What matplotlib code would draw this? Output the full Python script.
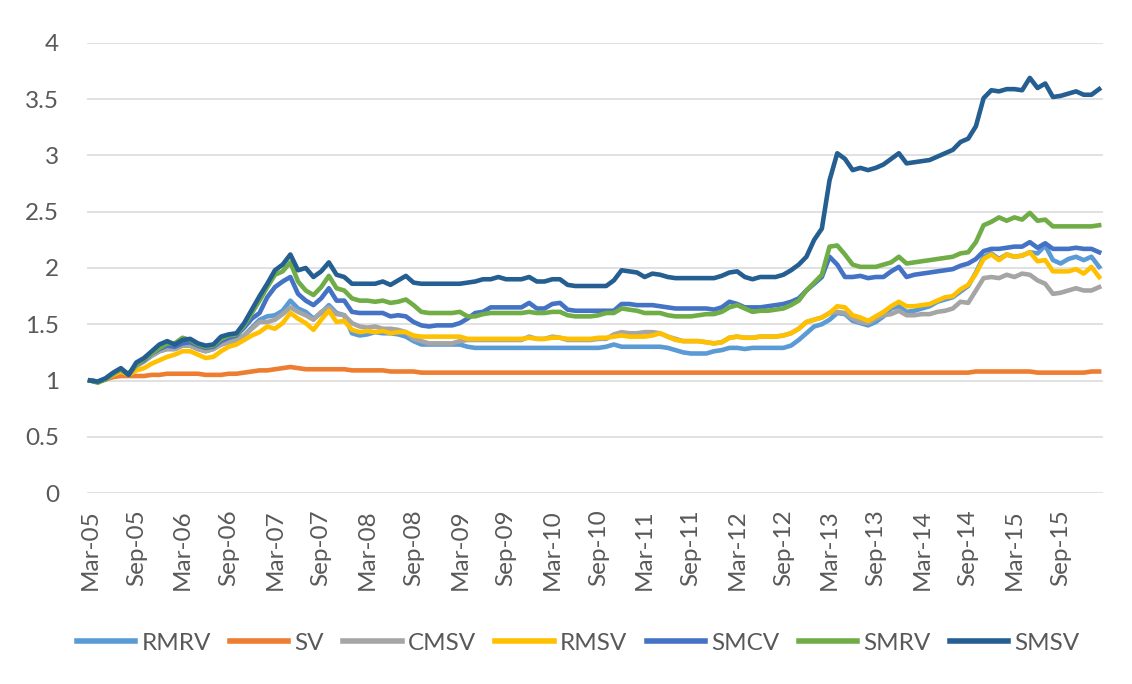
import numpy as np
import pandas as pd
import matplotlib
matplotlib.use('Agg')
import matplotlib.pyplot as plt

# Séries mensuelles (Mar-05 -> Feb-16)
dates = pd.date_range('2005-03-01', periods=132, freq='MS')

rmrv = [1.00, 0.99, 1.01, 1.05, 1.09, 1.05, 1.13, 1.17, 1.22, 1.26, 1.28, 1.28,
        1.31, 1.31, 1.28, 1.26, 1.28, 1.32, 1.34, 1.36, 1.40, 1.47, 1.54, 1.57,
        1.58, 1.62, 1.71, 1.64, 1.61, 1.55, 1.60, 1.67, 1.60, 1.58, 1.42, 1.40,
        1.41, 1.43, 1.42, 1.42, 1.41, 1.39, 1.35, 1.32, 1.32, 1.32, 1.32, 1.32,
        1.32, 1.30, 1.29, 1.29, 1.29, 1.29, 1.29, 1.29, 1.29, 1.29, 1.29, 1.29,
        1.29, 1.29, 1.29, 1.29, 1.29, 1.29, 1.29, 1.30, 1.32, 1.30, 1.30, 1.30,
        1.30, 1.30, 1.30, 1.29, 1.27, 1.25, 1.24, 1.24, 1.24, 1.26, 1.27, 1.29,
        1.29, 1.28, 1.29, 1.29, 1.29, 1.29, 1.29, 1.31, 1.36, 1.42, 1.48, 1.50,
        1.54, 1.60, 1.59, 1.53, 1.51, 1.49, 1.52, 1.57, 1.64, 1.66, 1.61, 1.62,
        1.64, 1.66, 1.70, 1.72, 1.74, 1.79, 1.84, 1.96, 2.10, 2.13, 2.08, 2.12,
        2.10, 2.11, 2.14, 2.13, 2.20, 2.07, 2.04, 2.08, 2.10, 2.07, 2.10, 2.01]

sv = [1.00, 0.99, 1.01, 1.03, 1.04, 1.04, 1.04, 1.04, 1.05, 1.05, 1.06, 1.06,
      1.06, 1.06, 1.06, 1.05, 1.05, 1.05, 1.06, 1.06, 1.07, 1.08, 1.09, 1.09,
      1.10, 1.11, 1.12, 1.11, 1.10, 1.10, 1.10, 1.10, 1.10, 1.10, 1.09, 1.09,
      1.09, 1.09, 1.09, 1.08, 1.08, 1.08, 1.08, 1.07, 1.07, 1.07, 1.07, 1.07,
      1.07, 1.07, 1.07, 1.07, 1.07, 1.07, 1.07, 1.07, 1.07, 1.07, 1.07, 1.07,
      1.07, 1.07, 1.07, 1.07, 1.07, 1.07, 1.07, 1.07, 1.07, 1.07, 1.07, 1.07,
      1.07, 1.07, 1.07, 1.07, 1.07, 1.07, 1.07, 1.07, 1.07, 1.07, 1.07, 1.07,
      1.07, 1.07, 1.07, 1.07, 1.07, 1.07, 1.07, 1.07, 1.07, 1.07, 1.07, 1.07,
      1.07, 1.07, 1.07, 1.07, 1.07, 1.07, 1.07, 1.07, 1.07, 1.07, 1.07, 1.07,
      1.07, 1.07, 1.07, 1.07, 1.07, 1.07, 1.07, 1.08, 1.08, 1.08, 1.08, 1.08,
      1.08, 1.08, 1.08, 1.07, 1.07, 1.07, 1.07, 1.07, 1.07, 1.07, 1.08, 1.08]

cmsv = [1.00, 0.99, 1.01, 1.05, 1.09, 1.05, 1.13, 1.17, 1.22, 1.26, 1.28, 1.28,
        1.31, 1.31, 1.28, 1.26, 1.28, 1.32, 1.34, 1.36, 1.40, 1.46, 1.52, 1.52,
        1.54, 1.59, 1.65, 1.61, 1.58, 1.54, 1.61, 1.65, 1.59, 1.58, 1.51, 1.48,
        1.47, 1.48, 1.46, 1.46, 1.45, 1.43, 1.37, 1.35, 1.33, 1.33, 1.33, 1.33,
        1.35, 1.36, 1.36, 1.36, 1.36, 1.36, 1.36, 1.36, 1.36, 1.39, 1.37, 1.37,
        1.39, 1.38, 1.36, 1.36, 1.36, 1.36, 1.37, 1.37, 1.41, 1.43, 1.42, 1.42,
        1.43, 1.43, 1.42, 1.39, 1.37, 1.35, 1.35, 1.35, 1.34, 1.33, 1.34, 1.38,
        1.39, 1.38, 1.38, 1.39, 1.39, 1.39, 1.40, 1.42, 1.46, 1.52, 1.54, 1.56,
        1.60, 1.61, 1.60, 1.55, 1.52, 1.51, 1.55, 1.58, 1.59, 1.62, 1.58, 1.58,
        1.59, 1.59, 1.61, 1.62, 1.64, 1.70, 1.69, 1.80, 1.91, 1.92, 1.91, 1.94,
        1.92, 1.95, 1.94, 1.89, 1.86, 1.77, 1.78, 1.80, 1.82, 1.80, 1.80, 1.83]

rmsv = [1.00, 0.99, 1.01, 1.05, 1.08, 1.05, 1.09, 1.11, 1.15, 1.18, 1.21, 1.23,
        1.26, 1.26, 1.23, 1.20, 1.21, 1.26, 1.30, 1.32, 1.36, 1.40, 1.43, 1.48,
        1.46, 1.51, 1.60, 1.55, 1.51, 1.45, 1.54, 1.62, 1.52, 1.53, 1.45, 1.43,
        1.44, 1.43, 1.44, 1.42, 1.43, 1.43, 1.40, 1.39, 1.39, 1.39, 1.39, 1.39,
        1.39, 1.37, 1.37, 1.37, 1.37, 1.37, 1.37, 1.37, 1.37, 1.38, 1.37, 1.37,
        1.38, 1.38, 1.37, 1.37, 1.37, 1.37, 1.38, 1.38, 1.39, 1.40, 1.39, 1.39,
        1.39, 1.40, 1.42, 1.39, 1.36, 1.35, 1.35, 1.35, 1.34, 1.33, 1.34, 1.38,
        1.39, 1.38, 1.38, 1.39, 1.39, 1.39, 1.40, 1.42, 1.46, 1.52, 1.54, 1.56,
        1.60, 1.66, 1.65, 1.58, 1.56, 1.53, 1.57, 1.61, 1.66, 1.70, 1.66, 1.66,
        1.67, 1.68, 1.71, 1.74, 1.75, 1.81, 1.85, 1.95, 2.08, 2.12, 2.07, 2.12,
        2.10, 2.11, 2.14, 2.06, 2.07, 1.97, 1.97, 1.97, 1.99, 1.95, 2.01, 1.92]

smcv = [1.00, 0.99, 1.01, 1.06, 1.10, 1.05, 1.14, 1.18, 1.24, 1.28, 1.31, 1.30,
        1.33, 1.34, 1.31, 1.29, 1.30, 1.35, 1.38, 1.40, 1.47, 1.55, 1.60, 1.74,
        1.83, 1.88, 1.92, 1.77, 1.71, 1.67, 1.73, 1.82, 1.71, 1.71, 1.61, 1.60,
        1.60, 1.60, 1.60, 1.57, 1.58, 1.57, 1.52, 1.49, 1.48, 1.49, 1.49, 1.49,
        1.51, 1.55, 1.60, 1.61, 1.65, 1.65, 1.65, 1.65, 1.65, 1.69, 1.64, 1.64,
        1.68, 1.69, 1.63, 1.62, 1.62, 1.62, 1.62, 1.62, 1.62, 1.68, 1.68, 1.67,
        1.67, 1.67, 1.66, 1.65, 1.64, 1.64, 1.64, 1.64, 1.64, 1.63, 1.65, 1.70,
        1.68, 1.65, 1.65, 1.65, 1.66, 1.67, 1.68, 1.70, 1.73, 1.80, 1.86, 1.92,
        2.10, 2.03, 1.92, 1.92, 1.93, 1.91, 1.92, 1.92, 1.97, 2.01, 1.92, 1.94,
        1.95, 1.96, 1.97, 1.98, 1.99, 2.02, 2.04, 2.08, 2.15, 2.17, 2.17, 2.18,
        2.19, 2.19, 2.23, 2.18, 2.22, 2.17, 2.17, 2.17, 2.18, 2.17, 2.17, 2.14]

smrv = [1.00, 0.98, 1.01, 1.06, 1.10, 1.06, 1.14, 1.19, 1.24, 1.29, 1.33, 1.33,
        1.38, 1.36, 1.32, 1.30, 1.31, 1.37, 1.40, 1.41, 1.49, 1.60, 1.71, 1.83,
        1.94, 1.97, 2.05, 1.88, 1.80, 1.76, 1.83, 1.93, 1.82, 1.80, 1.73, 1.71,
        1.71, 1.70, 1.71, 1.69, 1.70, 1.72, 1.67, 1.61, 1.60, 1.60, 1.60, 1.60,
        1.61, 1.57, 1.57, 1.59, 1.60, 1.60, 1.60, 1.60, 1.60, 1.61, 1.60, 1.60,
        1.61, 1.61, 1.58, 1.57, 1.57, 1.57, 1.58, 1.60, 1.60, 1.64, 1.63, 1.62,
        1.60, 1.60, 1.60, 1.58, 1.57, 1.57, 1.57, 1.58, 1.59, 1.59, 1.61, 1.65,
        1.67, 1.64, 1.61, 1.62, 1.62, 1.63, 1.64, 1.67, 1.71, 1.80, 1.87, 1.94,
        2.19, 2.20, 2.12, 2.03, 2.01, 2.01, 2.01, 2.03, 2.05, 2.10, 2.04, 2.05,
        2.06, 2.07, 2.08, 2.09, 2.10, 2.13, 2.14, 2.23, 2.38, 2.41, 2.45, 2.42,
        2.45, 2.43, 2.49, 2.42, 2.43, 2.37, 2.37, 2.37, 2.37, 2.37, 2.37, 2.38]

smsv = [1.00, 0.99, 1.02, 1.07, 1.11, 1.05, 1.16, 1.20, 1.26, 1.32, 1.35, 1.32,
        1.36, 1.37, 1.33, 1.31, 1.32, 1.39, 1.41, 1.42, 1.51, 1.63, 1.75, 1.86,
        1.98, 2.03, 2.12, 1.98, 2.00, 1.92, 1.97, 2.05, 1.94, 1.92, 1.86, 1.86,
        1.86, 1.86, 1.88, 1.85, 1.89, 1.93, 1.87, 1.86, 1.86, 1.86, 1.86, 1.86,
        1.86, 1.87, 1.88, 1.90, 1.90, 1.92, 1.90, 1.90, 1.90, 1.92, 1.88, 1.88,
        1.90, 1.90, 1.85, 1.84, 1.84, 1.84, 1.84, 1.84, 1.89, 1.98, 1.97, 1.96,
        1.92, 1.95, 1.94, 1.92, 1.91, 1.91, 1.91, 1.91, 1.91, 1.91, 1.93, 1.96,
        1.97, 1.92, 1.90, 1.92, 1.92, 1.92, 1.94, 1.98, 2.03, 2.10, 2.25, 2.35,
        2.78, 3.02, 2.97, 2.87, 2.89, 2.87, 2.89, 2.92, 2.97, 3.02, 2.93, 2.94,
        2.95, 2.96, 2.99, 3.02, 3.05, 3.12, 3.15, 3.26, 3.51, 3.58, 3.57, 3.59,
        3.59, 3.58, 3.69, 3.60, 3.64, 3.52, 3.53, 3.55, 3.57, 3.54, 3.54, 3.59]

noms = ['RMRV', 'SV', 'CMSV', 'RMSV', 'SMCV', 'SMRV', 'SMSV']
series = [rmrv, sv, cmsv, rmsv, smcv, smrv, smsv]
couleurs = ['#5B9BD5', '#ED7D31', '#A5A5A5', '#FFC000', '#4472C4', '#70AD47', '#255E91']

plt.rcParams['font.family'] = ['Lato', 'DejaVu Sans']
gris_texte = '#595959'

fig = plt.figure(figsize=(11.32, 6.84), dpi=100)
ax = fig.add_axes([87 / 1132, 1 - 493 / 684, (1103 - 87) / 1132, (493 - 43) / 684])

x = np.arange(len(dates))
for nom, valeurs, c in zip(noms, series, couleurs):
    ax.plot(x, valeurs, color=c, lw=3.3, label=nom, solid_joinstyle='round')

# Axes
ax.set_ylim(0, 4)
ax.set_xlim(-0.4, len(dates) - 0.5)
ax.set_yticks(np.arange(0, 4.01, 0.5))
ax.set_yticklabels([f'{v:g}' for v in np.arange(0, 4.01, 0.5)])
pos = x[::6]
ax.set_xticks(pos)
ax.set_xticklabels([d.strftime('%b-%y') for d in dates[::6]], rotation=90)
ax.tick_params(axis='both', length=0, labelsize=17.5, colors=gris_texte)
ax.tick_params(axis='y', pad=20)
ax.tick_params(axis='x', pad=12)
ax.grid(axis='y', color='#D9D9D9', lw=1.1)
ax.set_axisbelow(True)
for s in ax.spines.values():
    s.set_visible(False)

# Légende
leg = fig.legend(loc='center', bbox_to_anchor=(578 / 1132, 1 - 643 / 684), ncol=7,
                 frameon=False, fontsize=17.5, handlelength=2.4, handletextpad=0.25,
                 columnspacing=0.8, labelcolor=gris_texte)
for ligne in leg.get_lines():
    ligne.set_linewidth(4)

plt.savefig('out.png', dpi=100)
